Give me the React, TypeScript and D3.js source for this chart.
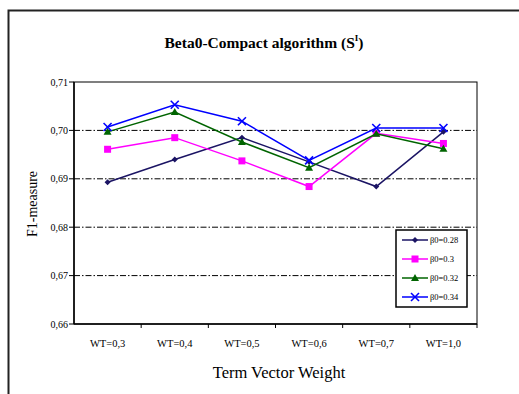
import React from "react";
import * as d3 from "d3";

const categories = ["WT=0,3", "WT=0,4", "WT=0,5", "WT=0,6", "WT=0,7", "WT=1,0"];
const yTicks = [0.66, 0.67, 0.68, 0.69, 0.70, 0.71];
const gridValues = [0.67, 0.68, 0.69, 0.70];
const seriesNames = ["β0=0.28", "β0=0.3", "β0=0.32", "β0=0.34"];
const b028 = [0.6893, 0.6940, 0.6985, 0.6935, 0.6884, 0.6997];
const b030 = [0.6961, 0.6985, 0.6937, 0.6884, 0.6994, 0.6973];
const b032 = [0.6997, 0.7038, 0.6976, 0.6923, 0.6993, 0.6962];
const b034 = [0.7007, 0.7053, 0.7019, 0.6938, 0.7005, 0.7005];
const seriesColors = ["#1b1464", "#ff00ff", "#006400", "#0000ff"];
const markerTypes = ["diamond", "square", "triangle", "cross"];

const W = 519;
const H = 394;
const plot = { left: 74, right: 477, top: 82, bottom: 324 };
const SERIF = "Liberation Serif, Times New Roman, DejaVu Serif, serif";

function Marker({ type, x, y, color }: { type: string; x: number; y: number; color: string }) {
  if (type === "diamond") {
    const s = 3;
    return <path d={`M${x},${y - s}L${x + s},${y}L${x},${y + s}L${x - s},${y}Z`} fill={color} />;
  }
  if (type === "square") {
    return <rect x={x - 3.5} y={y - 3.5} width={7} height={7} fill={color} />;
  }
  if (type === "triangle") {
    return <path d={`M${x},${y - 4}L${x + 4},${y + 3}L${x - 4},${y + 3}Z`} fill={color} />;
  }
  return (
    <g stroke={color} strokeWidth={1.6}>
      <line x1={x - 4} y1={y - 4} x2={x + 4} y2={y + 4} />
      <line x1={x - 4} y1={y + 4} x2={x + 4} y2={y - 4} />
    </g>
  );
}

export default function App() {
  const series = [b028, b030, b032, b034];
  const x = d3.scaleBand<string>().domain(categories).range([plot.left, plot.right]);
  const y = d3.scaleLinear().domain([0.66, 0.71]).range([plot.bottom, plot.top]);
  const cx = (i: number) => (x(categories[i]) as number) + x.bandwidth() / 2;
  const line = d3
    .line<number>()
    .x((_, i) => cx(i))
    .y((v) => y(v));

  const legend = { x: 396, y: 230, w: 71, h: 77 };
  const font = { fontFamily: SERIF };

  return (
    <svg
      width={W}
      height={H}
      style={{ position: "absolute", left: 0, top: 0, background: "#fff", fontFamily: SERIF }}
    >
      {/* outer frame */}
      <path d={`M8.5,${H}V10.5H${W}`} fill="none" stroke="#222" strokeWidth={2} />

      {/* title */}
      <text x={264} y={48} textAnchor="middle" fontSize={15.5} fontWeight="bold" style={font}>
        Beta0-Compact algorithm (S
        <tspan dy={-7} fontSize={9}>I</tspan>
        <tspan dy={7}>)</tspan>
      </text>

      {/* grid */}
      {gridValues.map((v) => (
        <line
          key={v}
          x1={plot.left}
          x2={plot.right}
          y1={y(v)}
          y2={y(v)}
          stroke="#000"
          strokeWidth={1}
          strokeDasharray="6,2,1.5,2"
        />
      ))}

      {/* plot border */}
      <rect
        x={plot.left}
        y={plot.top}
        width={plot.right - plot.left}
        height={plot.bottom - plot.top}
        fill="none"
        stroke="#000"
        strokeWidth={1}
      />
      <line x1={plot.left} x2={plot.left} y1={plot.top} y2={plot.bottom} stroke="#000" strokeWidth={1.5} />
      <line x1={plot.left} x2={plot.right} y1={plot.bottom} y2={plot.bottom} stroke="#000" strokeWidth={1.5} />

      {/* y axis ticks */}
      {yTicks.map((v) => (
        <g key={v}>
          <line x1={plot.left - 5} x2={plot.left} y1={y(v)} y2={y(v)} stroke="#000" />
          <text x={plot.left - 6} y={y(v) + 3.5} textAnchor="end" fontSize={10} style={font}>
            {d3.format(".2f")(v).replace(".", ",")}
          </text>
        </g>
      ))}

      {/* x axis ticks */}
      {categories.map((c, i) => (
        <g key={c}>
          <line
            x1={(x(c) as number) + x.bandwidth()}
            x2={(x(c) as number) + x.bandwidth()}
            y1={plot.bottom}
            y2={plot.bottom + 4}
            stroke="#000"
          />
          <text x={cx(i)} y={347} textAnchor="middle" fontSize={10.5} style={font}>
            {c}
          </text>
        </g>
      ))}

      {/* axis titles */}
      <text x={279} y={378} textAnchor="middle" fontSize={16.5} style={font}>
        Term Vector Weight
      </text>
      <text
        transform={`translate(37,${204}) rotate(-90)`}
        textAnchor="middle"
        fontSize={14}
        style={font}
      >
        F1-measure
      </text>

      {/* series */}
      {series.map((vals, si) => (
        <g key={si}>
          <path d={line(vals) as string} fill="none" stroke={seriesColors[si]} strokeWidth={1.5} />
          {vals.map((v, i) => (
            <Marker key={i} type={markerTypes[si]} x={cx(i)} y={y(v)} color={seriesColors[si]} />
          ))}
        </g>
      ))}

      {/* legend */}
      <defs>
        <clipPath id="legendClip">
          <rect x={legend.x} y={legend.y} width={legend.w} height={legend.h} />
        </clipPath>
      </defs>
      <rect x={legend.x} y={legend.y} width={legend.w} height={legend.h} fill="#fff" stroke="#000" strokeWidth={1.5} />
      <g clipPath="url(#legendClip)">
        {seriesNames.map((name, i) => {
          const ly = 240 + i * 19;
          return (
            <g key={name}>
              <line x1={402} x2={428} y1={ly} y2={ly} stroke={seriesColors[i]} strokeWidth={1.5} />
              <Marker type={markerTypes[i]} x={415} y={ly} color={seriesColors[i]} />
              <text x={430} y={ly + 3} fontSize={8.5} style={font}>
                {name}
              </text>
            </g>
          );
        })}
      </g>
    </svg>
  );
}
